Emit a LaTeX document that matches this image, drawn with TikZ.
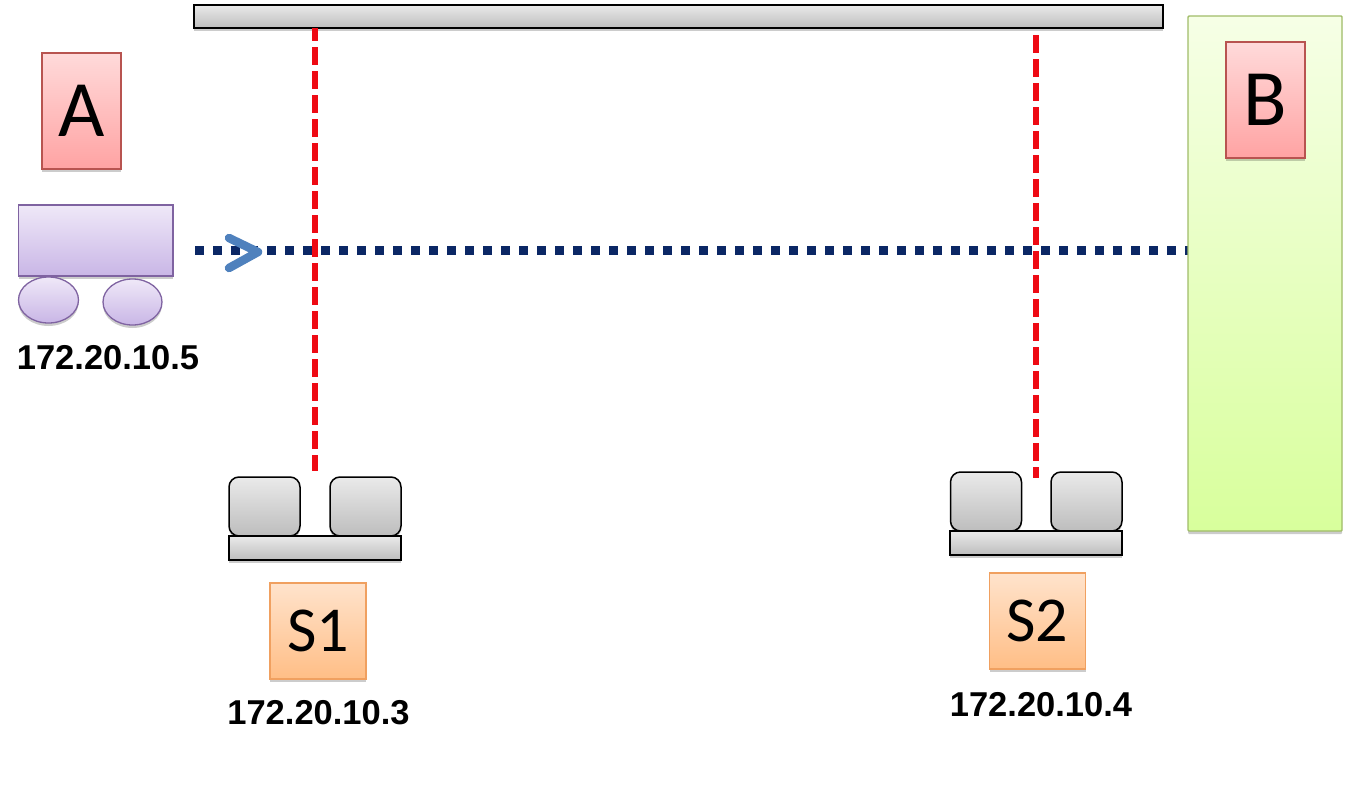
\documentclass[tikz,border=0pt]{standalone}
\usepackage{fontspec}
\setmainfont{Liberation Sans}
\newfontfamily\calib{Carlito}
\usetikzlibrary{shadows,shapes.geometric}
\definecolor{grayT}{HTML}{EAEAEA}
\definecolor{grayB}{HTML}{BDBDBD}
\definecolor{redT}{HTML}{FFDADA}
\definecolor{redB}{HTML}{FFA3A3}
\definecolor{redE}{HTML}{B85450}
\definecolor{orT}{HTML}{FFE3CC}
\definecolor{orB}{HTML}{FFBE86}
\definecolor{orE}{HTML}{F0A060}
\definecolor{grT}{HTML}{F6FFE6}
\definecolor{grB}{HTML}{D8FF9C}
\definecolor{grE}{HTML}{A0BC68}
\definecolor{puT}{HTML}{EFE8F8}
\definecolor{puB}{HTML}{C9B6E6}
\definecolor{puE}{HTML}{7F63A1}
\definecolor{navy}{HTML}{0B2765}
\definecolor{chev}{HTML}{4F81BD}
\definecolor{redL}{HTML}{EE0A14}
\tikzset{
  base/.style={inner sep=0pt,outer sep=0pt,
    drop shadow={shadow xshift=0pt,shadow yshift=-3pt,opacity=.2,fill=black}},
  graybar/.style={base,draw=black,line width=1.8pt,top color=grayT,bottom color=grayB},
  padbox/.style={base,draw=black,line width=1.5pt,rounded corners=10pt,top color=grayT,bottom color=grayB},
  platebox/.style={base,draw=black,line width=1.6pt,top color=grayT,bottom color=grayB},
  redbox/.style={base,draw=redE,line width=1.2pt,top color=redT,bottom color=redB,font=\calib\fontsize{80}{90}\selectfont},
  orangebox/.style={base,draw=orE,line width=1.2pt,top color=orT,bottom color=orB,font=\calib\fontsize{64}{72}\selectfont},
  greenbox/.style={base,draw=grE,line width=1.4pt,rounded corners=1pt,top color=grT,bottom color=grB},
  purplebox/.style={base,draw=puE,line width=1.3pt,top color=puT,bottom color=puB},
  wheel/.style={purplebox,ellipse},
  iplabel/.style={inner sep=0pt,font=\bfseries\fontsize{34.5}{38}\selectfont},
  redline/.style={draw=redL,line width=5.5pt,dash pattern=on 18pt off 6pt},
  blueline/.style={draw=navy,line width=8.5pt,dash pattern=on 9pt off 9pt},
  chevron/.style={draw=chev,line width=8.5pt,line cap=round,line join=round}
}
\begin{document}
\begin{tikzpicture}[x=1pt,y=-1pt]
\useasboundingbox (0,0) rectangle (1350,787);

% blue line first: panels and red lines sit over it
\coordinate (blueStart) at (195,250.5);
\coordinate (greenEdge) at (1188,250.5);
\draw[blueline] (blueStart) -- (greenEdge);

\node[greenbox,minimum width=154pt,minimum height=515pt] (green) at (1265,273.5) {};
\node[graybar,minimum width=969pt,minimum height=23pt] (bar) at (678.5,16.5) {};
\node[redbox,minimum width=79pt,minimum height=116pt] (A) at (81.5,111) {\raisebox{-3pt}{A}};
\node[redbox,minimum width=79pt,minimum height=116pt] (B) at (1265.5,100) {\raisebox{-3pt}{B}};

% vehicle
\node[purplebox,minimum width=154.5pt,minimum height=71pt] (truck) at (95.75,240.5) {};
\node[wheel,minimum width=60pt,minimum height=46pt] (w1) at (48.5,300) {};
\node[wheel,minimum width=59pt,minimum height=46pt] (w2) at (132.5,302) {};
\node[iplabel] (ipA) at (108,358) {172.20.10.5};

% S1
\node[padbox,minimum width=71pt,minimum height=59pt] (p1a) at (264.5,506.5) {};
\node[padbox,minimum width=71pt,minimum height=59pt] (p1b) at (365.5,506.5) {};
\node[platebox,minimum width=172pt,minimum height=24pt] (plate1) at (315,548) {};
\node[orangebox,minimum width=96pt,minimum height=96pt] (S1) at (318,631) {S1};
\node[iplabel] (ipS1) at (318.5,713) {172.20.10.3};

% S2
\node[padbox,minimum width=71pt,minimum height=59pt] (p2a) at (986,501.5) {};
\node[padbox,minimum width=71pt,minimum height=59pt] (p2b) at (1086.5,501.5) {};
\node[platebox,minimum width=172pt,minimum height=24pt] (plate2) at (1036,543) {};
\node[orangebox,minimum width=96pt,minimum height=96pt] (S2) at (1037.5,621) {S2};
\node[iplabel] (ipS2) at (1041,705) {172.20.10.4};

% red links
\coordinate (r1top) at (315,28);
\coordinate (r1end) at (315,471);
\coordinate (r2top) at (1036,35);
\coordinate (r2end) at (1036,478);
\draw[redline,dash phase=5pt] (r1top) -- (r1end);
\draw[redline] (r2top) -- (r2end);

% arrow head
\coordinate (c1) at (229,238);
\coordinate (c2) at (258,252);
\coordinate (c3) at (229,268);
\draw[chevron] (c1) -- (c2) -- (c3);
\end{tikzpicture}
\end{document}
